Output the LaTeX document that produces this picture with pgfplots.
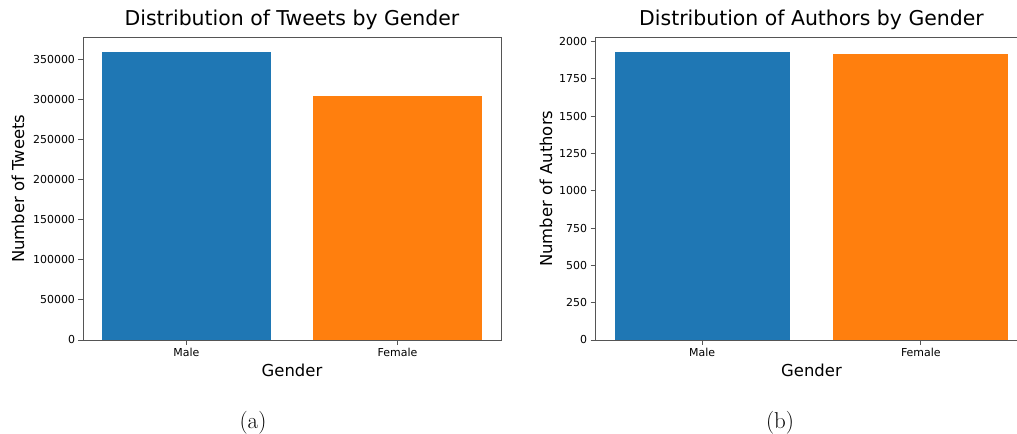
\documentclass[border=0pt]{standalone}
\usepackage{pgfplots}
\pgfplotsset{compat=1.18}
\usepackage{fontspec}
\newfontfamily\dejavu{DejaVu Sans}
\definecolor{mblue}{HTML}{1F77B4}
\definecolor{morange}{HTML}{FF7F0E}
\definecolor{spine}{HTML}{555555}
\pgfplotsset{
  mystyle/.style={
    scale only axis,
    height=302.5bp,
    xmin=-0.49, xmax=1.49,
    ymin=0,
    axis line style={spine, line width=0.9bp},
    tick style={spine, line width=0.9bp},
    tick align=outside,
    major tick length=4.5bp,
    xtick pos=bottom, ytick pos=left,
    xtick={0,1}, xticklabels={Male,Female},
    /pgf/number format/assume math mode=true,
    /pgf/number format/.cd, fixed, 1000 sep={}, /pgfplots/.cd,
    scaled y ticks=false,
    tick label style={font=\dejavu\fontsize{11}{13}\selectfont, text=black},
    label style={font=\dejavu\fontsize{16.5}{19}\selectfont},
    title style={font=\dejavu\fontsize{20.5}{24}\selectfont, at={(axis description cs:0.5,1)}, anchor=base, yshift=6bp},
    xlabel style={at={(axis description cs:0.5,0)}, anchor=base, yshift=-36bp},
    xticklabel style={anchor=base, yshift=-12bp},
  }
}
\begin{document}
\begin{tikzpicture}
\useasboundingbox (0,0) rectangle (1017bp,434bp);
\begin{axis}[mystyle, at={(83bp,94bp)}, anchor=south west, width=418bp,
  ymax=377055,
  ytick={0,50000,100000,150000,200000,250000,300000,350000},
  title={Distribution of Tweets by Gender},
  xlabel={Gender}, ylabel={Number of Tweets},
  ylabel style={at={(axis description cs:-0.141,0.5)}, anchor=base}]
\addplot[ybar, bar width=0.8, bar shift=0pt, fill=mblue, draw=none] coordinates {(0,359100)};
\addplot[ybar, bar width=0.8, bar shift=0pt, fill=morange, draw=none] coordinates {(1,303750)};
\end{axis}
\begin{axis}[mystyle, at={(595bp,94bp)}, anchor=south west, width=433bp,
  ymax=2026.5,
  ytick={0,250,500,750,1000,1250,1500,1750,2000},
  title={Distribution of Authors by Gender},
  xlabel={Gender}, ylabel={Number of Authors},
  ylabel style={at={(axis description cs:-0.099,0.5)}, anchor=base}]
\addplot[ybar, bar width=0.8, bar shift=0pt, fill=mblue, draw=none] coordinates {(0,1930)};
\addplot[ybar, bar width=0.8, bar shift=0pt, fill=morange, draw=none] coordinates {(1,1918)};
\end{axis}
\node[anchor=base, font=\fontsize{23}{27}\selectfont] at (253bp,6bp) {(a)};
\node[anchor=base, font=\fontsize{23}{27}\selectfont] at (780bp,6bp) {(b)};
\end{tikzpicture}
\end{document}
